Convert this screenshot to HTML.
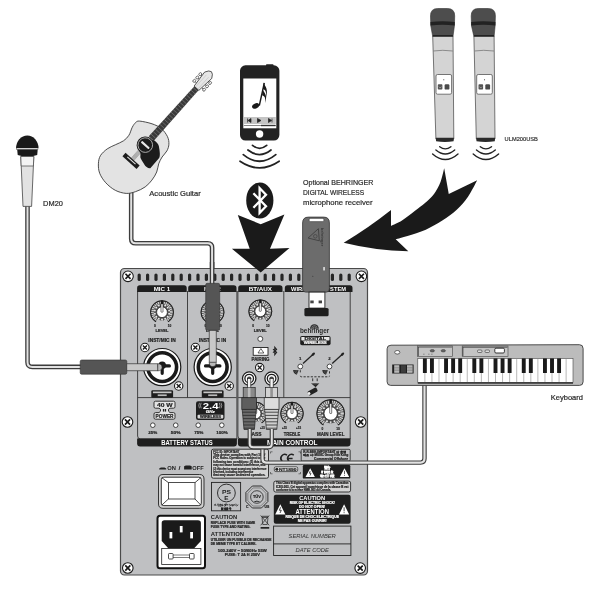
<!DOCTYPE html>
<html><head><meta charset="utf-8"><style>
html,body{margin:0;padding:0;background:#fff;width:600px;height:590px;overflow:hidden}
svg{display:block;font-family:"Liberation Sans",sans-serif;filter:blur(0.35px)}
</style></head><body>
<svg width="600" height="590" viewBox="0 0 600 590"><path d="M27.5,205 L27.5,362 Q27.5,366.9 32.4,366.9 L82,366.9" fill="none" stroke="#3c3c3c" stroke-width="4.6" stroke-linejoin="round"/><path d="M27.5,205 L27.5,362 Q27.5,366.9 32.4,366.9 L82,366.9" fill="none" stroke="#e2e2e2" stroke-width="2.0" stroke-linejoin="round"/><path d="M131.2,192 L131.2,238.7 Q131.2,243.2 135.7,243.2 L207.6,243.2 Q212.1,243.2 212.1,247.7 L212.1,290" fill="none" stroke="#3c3c3c" stroke-width="4.6" stroke-linejoin="round"/><path d="M131.2,192 L131.2,238.7 Q131.2,243.2 135.7,243.2 L207.6,243.2 Q212.1,243.2 212.1,247.7 L212.1,290" fill="none" stroke="#e2e2e2" stroke-width="2.0" stroke-linejoin="round"/><path d="M16.1,148 A11.2,12.5 0 0 1 38.5,148 Z" fill="#1a1a1a"/><rect x="16.6" y="148" width="21.4" height="1.6" fill="#fff" stroke="#1a1a1a" stroke-width="0.4"/><path d="M17.2,149.6 L37.7,149.6 L37.2,155 Q27.4,158 17.7,155 Z" fill="#1a1a1a"/><path d="M20.8,156.5 L33.8,156.5 L31.6,206.4 L23,206.4 Z" fill="#e2e2e2" stroke="#444" stroke-width="0.8"/><path d="M20.8,156.5 L33.8,156.5 L33.4,166 L21.2,166 Z" fill="#f4f4f4" stroke="#444" stroke-width="0.7"/><text x="43.1" y="205.8" font-size="7.4" fill="#2a2a2a" stroke="#2a2a2a" stroke-width="0.2" textLength="19.8" lengthAdjust="spacingAndGlyphs">DM20</text><path d="M139.70,121.10 C142.42,121.32 148.38,122.55 152.00,123.80 C155.62,125.05 158.82,126.45 161.40,128.60 C163.98,130.75 166.25,134.10 167.50,136.70 C168.75,139.30 169.00,141.83 168.90,144.20 C168.80,146.57 168.03,148.77 166.90,150.90 C165.77,153.03 163.47,154.85 162.10,157.00 C160.73,159.15 159.60,161.30 158.70,163.80 C157.80,166.30 157.83,169.28 156.70,172.00 C155.57,174.72 153.82,177.62 151.90,180.10 C149.98,182.58 147.90,184.98 145.20,186.90 C142.50,188.82 138.87,190.52 135.70,191.60 C132.53,192.68 129.60,193.62 126.20,193.40 C122.80,193.18 118.70,192.07 115.30,190.30 C111.90,188.53 108.40,185.63 105.80,182.80 C103.20,179.97 100.93,176.47 99.70,173.30 C98.47,170.13 98.28,166.73 98.40,163.80 C98.52,160.87 98.93,158.18 100.40,155.70 C101.87,153.22 104.72,150.72 107.20,148.90 C109.68,147.08 112.58,146.15 115.30,144.80 C118.02,143.45 121.23,142.38 123.50,140.80 C125.77,139.22 127.43,137.57 128.90,135.30 C130.37,133.03 131.17,129.33 132.30,127.20 C133.43,125.07 134.47,123.52 135.70,122.50 C136.93,121.48 136.98,120.88 139.70,121.10Z" fill="#e3e3e3" stroke="#3a3a3a" stroke-width="0.9"/><g transform="translate(145.3,145.1) rotate(42)"><line x1="-1.80" y1="-76" x2="-1.80" y2="21" stroke="#555" stroke-width="0.35"/><line x1="-1.08" y1="-76" x2="-1.08" y2="21" stroke="#555" stroke-width="0.35"/><line x1="-0.36" y1="-76" x2="-0.36" y2="21" stroke="#555" stroke-width="0.35"/><line x1="0.36" y1="-76" x2="0.36" y2="21" stroke="#555" stroke-width="0.35"/><line x1="1.08" y1="-76" x2="1.08" y2="21" stroke="#555" stroke-width="0.35"/><line x1="1.80" y1="-76" x2="1.80" y2="21" stroke="#555" stroke-width="0.35"/><path d="M1.9,-9.4 C6,-10 9.5,-9.5 10.8,-8.3 C15,-5 19,-2 19,1.4 L19.2,13.8 C18,15.5 14.5,16 12.6,15.2 C9,14 6,13.5 4.4,12.3 C2,9 1,8.5 0,9 Z" fill="#1c1c1c"/><path d="M-3.4,-9 L-2.9,-77 L2.9,-77 L3.4,-9 Z" fill="#3a3a3a"/><line x1="-3.1" y1="-12.0" x2="3.1" y2="-12.0" stroke="#9a9a9a" stroke-width="0.45"/><line x1="-3.1" y1="-15.3" x2="3.1" y2="-15.3" stroke="#9a9a9a" stroke-width="0.45"/><line x1="-3.1" y1="-18.6" x2="3.1" y2="-18.6" stroke="#9a9a9a" stroke-width="0.45"/><line x1="-3.1" y1="-21.9" x2="3.1" y2="-21.9" stroke="#9a9a9a" stroke-width="0.45"/><line x1="-3.1" y1="-25.2" x2="3.1" y2="-25.2" stroke="#9a9a9a" stroke-width="0.45"/><line x1="-3.1" y1="-28.5" x2="3.1" y2="-28.5" stroke="#9a9a9a" stroke-width="0.45"/><line x1="-3.1" y1="-31.8" x2="3.1" y2="-31.8" stroke="#9a9a9a" stroke-width="0.45"/><line x1="-3.1" y1="-35.1" x2="3.1" y2="-35.1" stroke="#9a9a9a" stroke-width="0.45"/><line x1="-3.1" y1="-38.4" x2="3.1" y2="-38.4" stroke="#9a9a9a" stroke-width="0.45"/><line x1="-3.1" y1="-41.7" x2="3.1" y2="-41.7" stroke="#9a9a9a" stroke-width="0.45"/><line x1="-3.1" y1="-45.0" x2="3.1" y2="-45.0" stroke="#9a9a9a" stroke-width="0.45"/><line x1="-3.1" y1="-48.3" x2="3.1" y2="-48.3" stroke="#9a9a9a" stroke-width="0.45"/><line x1="-3.1" y1="-51.6" x2="3.1" y2="-51.6" stroke="#9a9a9a" stroke-width="0.45"/><line x1="-3.1" y1="-54.9" x2="3.1" y2="-54.9" stroke="#9a9a9a" stroke-width="0.45"/><line x1="-3.1" y1="-58.2" x2="3.1" y2="-58.2" stroke="#9a9a9a" stroke-width="0.45"/><line x1="-3.1" y1="-61.5" x2="3.1" y2="-61.5" stroke="#9a9a9a" stroke-width="0.45"/><line x1="-3.1" y1="-64.8" x2="3.1" y2="-64.8" stroke="#9a9a9a" stroke-width="0.45"/><line x1="-3.1" y1="-68.1" x2="3.1" y2="-68.1" stroke="#9a9a9a" stroke-width="0.45"/><line x1="-3.1" y1="-71.4" x2="3.1" y2="-71.4" stroke="#9a9a9a" stroke-width="0.45"/><line x1="-3.1" y1="-74.7" x2="3.1" y2="-74.7" stroke="#9a9a9a" stroke-width="0.45"/><line x1="-3.5" y1="-80.5" x2="-6" y2="-80.5" stroke="#333" stroke-width="0.8"/><ellipse cx="-6.6" cy="-80.5" rx="1.3" ry="1.6" fill="#fff" stroke="#333" stroke-width="0.65"/><line x1="3.5" y1="-80.5" x2="6" y2="-80.5" stroke="#333" stroke-width="0.8"/><ellipse cx="6.6" cy="-80.5" rx="1.3" ry="1.6" fill="#fff" stroke="#333" stroke-width="0.65"/><line x1="-3.5" y1="-85" x2="-6" y2="-85" stroke="#333" stroke-width="0.8"/><ellipse cx="-6.6" cy="-85" rx="1.3" ry="1.6" fill="#fff" stroke="#333" stroke-width="0.65"/><line x1="3.5" y1="-85" x2="6" y2="-85" stroke="#333" stroke-width="0.8"/><ellipse cx="6.6" cy="-85" rx="1.3" ry="1.6" fill="#fff" stroke="#333" stroke-width="0.65"/><line x1="-3.5" y1="-89.5" x2="-6" y2="-89.5" stroke="#333" stroke-width="0.8"/><ellipse cx="-6.6" cy="-89.5" rx="1.3" ry="1.6" fill="#fff" stroke="#333" stroke-width="0.65"/><line x1="3.5" y1="-89.5" x2="6" y2="-89.5" stroke="#333" stroke-width="0.8"/><ellipse cx="6.6" cy="-89.5" rx="1.3" ry="1.6" fill="#fff" stroke="#333" stroke-width="0.65"/><path d="M-3.2,-76.5 L-4.8,-94 L-2.5,-97.5 L0,-98.8 L2.5,-97.5 L4.8,-94 L3.2,-76.5 Z" fill="#e6e6e6" stroke="#333" stroke-width="0.75"/><path d="M-1.6,-77 L-1.6,-93 M1.6,-77 L1.6,-93" stroke="#aaa" stroke-width="0.35"/><circle cx="0" cy="0" r="8.7" fill="#1c1c1c"/><circle cx="0" cy="0" r="7.3" fill="none" stroke="#b0b0b0" stroke-width="0.9"/><rect x="-5.2" y="-1.1" width="10.4" height="2.2" rx="0.8" fill="#e8e8e8"/><rect x="-9.5" y="19" width="19" height="4.6" fill="#1c1c1c"/><rect x="-5.5" y="20.2" width="11" height="1.1" fill="#e0e0e0"/></g><text x="149.3" y="196.3" font-size="7.5" fill="#2a2a2a" stroke="#2a2a2a" stroke-width="0.2" textLength="51.4" lengthAdjust="spacingAndGlyphs">Acoustic Guitar</text><rect x="240" y="65.3" width="39.4" height="75.2" rx="5.5" fill="#222"/><rect x="243.3" y="78.5" width="33" height="49.8" fill="#fff"/><rect x="243.8" y="117" width="32" height="7" fill="#c4c4c4"/><rect x="243.8" y="125" width="32" height="1" fill="#888"/><rect x="261" y="124.8" width="14.5" height="1.4" fill="#333"/><rect x="266" y="64.2" width="7.5" height="2" rx="0.8" fill="#222"/><path d="M247.5,118.5v4M248,120.5l3,-2v4z M257.5,118.5l3.5,2l-3.5,2z M272,118.5v4M271.5,120.5l-3,-2v4z" stroke="#222" stroke-width="0.7" fill="#222"/><circle cx="259.6" cy="134" r="3.7" fill="#fff"/><g fill="#1a1a1a"><ellipse cx="255.6" cy="105.9" rx="3.7" ry="2.5" transform="rotate(-25 255.6 105.9)"/><path d="M258.6,105.5 L263.6,82.8 L265,83 L260,105.8 Z"/><path d="M263.6,82.8 C265.5,87 268.5,89 266,98 C266.8,91 265,89.5 262.9,89 Z"/><path d="M262.7,89.5 C264.8,93.5 267.6,95 265.2,103 C265.8,97 264.2,95.8 262.1,95.2 Z"/></g><path d="M252.5,145.4 Q259.6,151.20000000000002 266.7,145.4" fill="none" stroke="#222" stroke-width="1.7" stroke-linecap="round"/><path d="M247.9,150 Q259.45,159.2 271,150" fill="none" stroke="#222" stroke-width="1.7" stroke-linecap="round"/><path d="M243.3,154.6 Q259.55,167.9 275.8,154.6" fill="none" stroke="#222" stroke-width="1.7" stroke-linecap="round"/><path d="M240,161.25 Q259.6,174.55 279.2,161.25" fill="none" stroke="#222" stroke-width="1.7" stroke-linecap="round"/><ellipse cx="259.8" cy="200.5" rx="13.6" ry="17.9" fill="#1a1a1a"/><path d="M253.4,193.2 L266,206.3 L259.6,213 L259.6,188 L266,194.7 L253.4,207.8" fill="none" stroke="#fff" stroke-width="2.3" stroke-linejoin="miter" stroke-miterlimit="3"/><path d="M444.2,168.3 L448.75,194 L477.2,180.2 C475.67,182.95 471.37,191.82 468.00,196.70 C464.63,201.58 461.28,205.52 457.00,209.50 C452.72,213.48 447.50,217.23 442.30,220.60 C437.10,223.97 431.60,227.12 425.80,229.70 C420.00,232.28 412.52,234.50 407.50,236.10 C402.48,237.70 397.67,238.77 395.70,239.30 L408.3,251.3 Q375,250.5 343.7,242.7 Q369,227.5 391,210 L391,226 C392.83,225.08 398.00,223.05 402.00,220.50 C406.00,217.95 411.17,213.62 415.00,210.70 C418.83,207.78 421.83,205.78 425.00,203.00 C428.17,200.22 431.42,197.50 434.00,194.00 C436.58,190.50 438.80,186.28 440.50,182.00 C442.20,177.72 443.58,170.58 444.20,168.30 Z" fill="#1a1a1a"/><path d="M432.7,36 L453.0,36 L453.8,139 L435.9,139 Z" fill="#d4d4d4" stroke="#555" stroke-width="0.8"/><path d="M435.79999999999995,137.8 L453.90000000000003,137.8 L453.6,141.3 Q444.85,142.6 436.09999999999997,141.3 Z" fill="#2a2a2a"/><path d="M433.09999999999997,51 Q442.6,49.6 452.9,51" fill="none" stroke="#777" stroke-width="0.8"/><path d="M432.7,36.4 L430.8,26 L430.5,16 Q430.5,8.5 437.5,8.5 L447.7,8.5 Q454.7,8.5 454.7,16 L454.4,26 L453.0,36.4 Z" fill="#4d4d4d" stroke="#333" stroke-width="0.6"/><path d="M430.5,22 Q442.6,20.6 454.7,22 L454.7,25.4 Q442.6,24 430.5,25.4 Z" fill="#222"/><path d="M432.9,35.6 L452.8,35.6" stroke="#222" stroke-width="1.2"/><rect x="436.0" y="74.5" width="15.6" height="19.7" rx="1.5" fill="#fff" stroke="#555" stroke-width="0.8"/><rect x="437.8" y="84.3" width="4.6" height="5.3" rx="0.8" fill="#555"/><rect x="444.6" y="84.3" width="4.8" height="5.3" rx="1.2" fill="#4a4a4a"/><path d="M438.8,86.6 L440.1,88 L441.40000000000003,86.6" fill="none" stroke="#ccc" stroke-width="0.5"/><circle cx="443.8" cy="79.8" r="0.55" fill="#333"/><path d="M473.9,36 L494.1,36 L495.0,139 L476.3,139 Z" fill="#d4d4d4" stroke="#555" stroke-width="0.8"/><path d="M476.2,137.8 L495.1,137.8 L494.8,141.3 Q485.65,142.6 476.5,141.3 Z" fill="#2a2a2a"/><path d="M474.29999999999995,51 Q483.29999999999995,49.6 494.0,51" fill="none" stroke="#777" stroke-width="0.8"/><path d="M473.9,36.4 L471.5,26 L471.2,16 Q471.2,8.5 478.2,8.5 L488.4,8.5 Q495.4,8.5 495.4,16 L495.09999999999997,26 L494.1,36.4 Z" fill="#4d4d4d" stroke="#333" stroke-width="0.6"/><path d="M471.2,22 Q483.29999999999995,20.6 495.4,22 L495.4,25.4 Q483.29999999999995,24 471.2,25.4 Z" fill="#222"/><path d="M474.09999999999997,35.6 L493.90000000000003,35.6" stroke="#222" stroke-width="1.2"/><rect x="476.69999999999993" y="74.5" width="15.6" height="19.7" rx="1.5" fill="#fff" stroke="#555" stroke-width="0.8"/><rect x="478.49999999999994" y="84.3" width="4.6" height="5.3" rx="0.8" fill="#555"/><rect x="485.29999999999995" y="84.3" width="4.8" height="5.3" rx="1.2" fill="#4a4a4a"/><path d="M479.49999999999994,86.6 L480.79999999999995,88 L482.09999999999997,86.6" fill="none" stroke="#ccc" stroke-width="0.5"/><circle cx="484.49999999999994" cy="79.8" r="0.55" fill="#333"/><path d="M439.7,146.7 Q445.3,151.10000000000002 450.90000000000003,146.7" fill="none" stroke="#222" stroke-width="1.4" stroke-linecap="round"/><path d="M435.90000000000003,150 Q445.3,158 454.7,150" fill="none" stroke="#222" stroke-width="1.4" stroke-linecap="round"/><path d="M432.6,154 Q445.3,165.2 458.0,154" fill="none" stroke="#222" stroke-width="1.4" stroke-linecap="round"/><path d="M480.29999999999995,146.7 Q485.9,151.10000000000002 491.5,146.7" fill="none" stroke="#222" stroke-width="1.4" stroke-linecap="round"/><path d="M476.5,150 Q485.9,158 495.29999999999995,150" fill="none" stroke="#222" stroke-width="1.4" stroke-linecap="round"/><path d="M473.2,154 Q485.9,165.2 498.59999999999997,154" fill="none" stroke="#222" stroke-width="1.4" stroke-linecap="round"/><text x="504.6" y="140.8" font-size="5.2" fill="#2a2a2a" stroke="#2a2a2a" stroke-width="0.15" textLength="33.3" lengthAdjust="spacingAndGlyphs">ULM200USB</text><g font-size="7.6" fill="#2a2a2a" stroke="#2a2a2a" stroke-width="0.2"><text x="303" y="185" textLength="70.3" lengthAdjust="spacingAndGlyphs">Optional BEHRINGER</text><text x="303" y="195.2" textLength="61.2" lengthAdjust="spacingAndGlyphs">DIGITAL WIRELESS</text><text x="303" y="204.8" textLength="69.6" lengthAdjust="spacingAndGlyphs">microphone receiver</text></g><rect x="120.5" y="268.5" width="247" height="306.5" rx="4" fill="#bfc0c2" stroke="#4a4a4a" stroke-width="1.2"/><rect x="137.6" y="273.4" width="3.2" height="7.7" rx="1.6" fill="#262626"/><rect x="146.0" y="273.4" width="3.2" height="7.7" rx="1.6" fill="#262626"/><rect x="154.4" y="273.4" width="3.2" height="7.7" rx="1.6" fill="#262626"/><rect x="162.8" y="273.4" width="3.2" height="7.7" rx="1.6" fill="#262626"/><rect x="171.2" y="273.4" width="3.2" height="7.7" rx="1.6" fill="#262626"/><rect x="179.6" y="273.4" width="3.2" height="7.7" rx="1.6" fill="#262626"/><rect x="188.0" y="273.4" width="3.2" height="7.7" rx="1.6" fill="#262626"/><rect x="196.4" y="273.4" width="3.2" height="7.7" rx="1.6" fill="#262626"/><rect x="204.8" y="273.4" width="3.2" height="7.7" rx="1.6" fill="#262626"/><rect x="213.2" y="273.4" width="3.2" height="7.7" rx="1.6" fill="#262626"/><rect x="221.6" y="273.4" width="3.2" height="7.7" rx="1.6" fill="#262626"/><rect x="230.0" y="273.4" width="3.2" height="7.7" rx="1.6" fill="#262626"/><rect x="238.4" y="273.4" width="3.2" height="7.7" rx="1.6" fill="#262626"/><rect x="246.8" y="273.4" width="3.2" height="7.7" rx="1.6" fill="#262626"/><rect x="255.2" y="273.4" width="3.2" height="7.7" rx="1.6" fill="#262626"/><rect x="263.6" y="273.4" width="3.2" height="7.7" rx="1.6" fill="#262626"/><rect x="272.0" y="273.4" width="3.2" height="7.7" rx="1.6" fill="#262626"/><rect x="280.4" y="273.4" width="3.2" height="7.7" rx="1.6" fill="#262626"/><rect x="288.8" y="273.4" width="3.2" height="7.7" rx="1.6" fill="#262626"/><rect x="297.2" y="273.4" width="3.2" height="7.7" rx="1.6" fill="#262626"/><rect x="305.6" y="273.4" width="3.2" height="7.7" rx="1.6" fill="#262626"/><rect x="314.0" y="273.4" width="3.2" height="7.7" rx="1.6" fill="#262626"/><rect x="322.4" y="273.4" width="3.2" height="7.7" rx="1.6" fill="#262626"/><rect x="330.8" y="273.4" width="3.2" height="7.7" rx="1.6" fill="#262626"/><rect x="339.2" y="273.4" width="3.2" height="7.7" rx="1.6" fill="#262626"/><rect x="347.6" y="273.4" width="3.2" height="7.7" rx="1.6" fill="#262626"/><circle cx="128" cy="276.3" r="5.3" fill="#fff" stroke="#1a1a1a" stroke-width="1.1"/><path d="M125.46,273.76L130.54,278.84M130.54,273.76L125.46,278.84" stroke="#1a1a1a" stroke-width="1.70"/><circle cx="361.4" cy="276.3" r="5.3" fill="#fff" stroke="#1a1a1a" stroke-width="1.1"/><path d="M358.86,273.76L363.94,278.84M363.94,273.76L358.86,278.84" stroke="#1a1a1a" stroke-width="1.70"/><circle cx="127.5" cy="422" r="5.3" fill="#fff" stroke="#1a1a1a" stroke-width="1.1"/><path d="M124.96,419.46L130.04,424.54M130.04,419.46L124.96,424.54" stroke="#1a1a1a" stroke-width="1.70"/><circle cx="360.7" cy="422" r="5.3" fill="#fff" stroke="#1a1a1a" stroke-width="1.1"/><path d="M358.16,419.46L363.24,424.54M363.24,419.46L358.16,424.54" stroke="#1a1a1a" stroke-width="1.70"/><circle cx="127.8" cy="568" r="5.3" fill="#fff" stroke="#1a1a1a" stroke-width="1.1"/><path d="M125.26,565.46L130.34,570.54M130.34,565.46L125.26,570.54" stroke="#1a1a1a" stroke-width="1.70"/><circle cx="360.2" cy="568.1" r="5.3" fill="#fff" stroke="#1a1a1a" stroke-width="1.1"/><path d="M357.66,565.56L362.74,570.64M362.74,565.56L357.66,570.64" stroke="#1a1a1a" stroke-width="1.70"/><path d="M137.6,291 L137.6,436 Q137.6,439 140.6,439 L236.9,439 L236.9,291" fill="none" stroke="#333" stroke-width="0.9"/><path d="M187.5,291 L187.5,397.6 M137.6,397.6 L236.5,397.6" fill="none" stroke="#333" stroke-width="0.9"/><path d="M237.9,291 L237.9,436 Q237.9,439 240.9,439 L350.2,439 L350.2,291" fill="none" stroke="#333" stroke-width="0.9"/><path d="M283.8,291 L283.8,397.6 M238.2,397.6 L350.2,397.6" fill="none" stroke="#333" stroke-width="0.9"/><path d="M137.1,291.9 L137.1,288 Q137.1,285.3 139.79999999999998,285.3 L184.0,285.3 Q186.7,285.3 186.7,288 L186.7,291.9 Z" fill="#1e1e1e"/><text x="153.7" y="290.9" font-size="6.2" font-weight="bold" fill="#fff" textLength="16.6" lengthAdjust="spacingAndGlyphs">MIC 1</text><path d="M188.2,291.9 L188.2,288 Q188.2,285.3 190.89999999999998,285.3 L233.8,285.3 Q236.5,285.3 236.5,288 L236.5,291.9 Z" fill="#1e1e1e"/><text x="204.0" y="290.9" font-size="6.2" font-weight="bold" fill="#fff" textLength="16.6" lengthAdjust="spacingAndGlyphs">MIC 2</text><path d="M238.2,291.9 L238.2,288 Q238.2,285.3 240.89999999999998,285.3 L279.8,285.3 Q282.5,285.3 282.5,288 L282.5,291.9 Z" fill="#1e1e1e"/><text x="248.65" y="290.9" font-size="6.2" font-weight="bold" fill="#fff" textLength="23.3" lengthAdjust="spacingAndGlyphs">BT/AUX</text><path d="M284.8,291.9 L284.8,288 Q284.8,285.3 287.5,285.3 L349.8,285.3 Q352.5,285.3 352.5,288 L352.5,291.9 Z" fill="#1e1e1e"/><text x="291.0" y="290.9" font-size="6.2" font-weight="bold" fill="#fff" textLength="55" lengthAdjust="spacingAndGlyphs">WIRELESS SYSTEM</text><path d="M137.1,438.5 L236.9,438.5 L236.9,443.5 Q236.9,446.5 233.9,446.5 L140.1,446.5 Q137.1,446.5 137.1,443.5 Z" fill="#1e1e1e"/><text x="161.3" y="445.3" font-size="6.4" font-weight="bold" fill="#fff" textLength="51.4" lengthAdjust="spacingAndGlyphs">BATTERY STATUS</text><path d="M237.9,438.5 L350.5,438.5 L350.5,443.5 Q350.5,446.5 347.5,446.5 L240.9,446.5 Q237.9,446.5 237.9,443.5 Z" fill="#1e1e1e"/><text x="267" y="445.3" font-size="6.4" font-weight="bold" fill="#fff" textLength="50.5" lengthAdjust="spacingAndGlyphs">MAIN CONTROL</text><circle cx="162" cy="312.2" r="11.9" fill="#505050"/><circle cx="162" cy="312.2" r="9.52" fill="none" stroke="#cfcfcf" stroke-width="2.86" stroke-dasharray="1.16 0.77"/><circle cx="162" cy="312.2" r="11.45" fill="none" stroke="#1a1a1a" stroke-width="0.9"/><circle cx="162.00" cy="304.90" r="0.95" fill="#e8e8e8"/><circle cx="165.17" cy="305.62" r="0.95" fill="#e8e8e8"/><circle cx="167.71" cy="307.65" r="0.95" fill="#e8e8e8"/><circle cx="169.12" cy="310.58" r="0.95" fill="#e8e8e8"/><circle cx="169.12" cy="313.82" r="0.95" fill="#e8e8e8"/><circle cx="167.71" cy="316.75" r="0.95" fill="#e8e8e8"/><circle cx="165.17" cy="318.78" r="0.95" fill="#e8e8e8"/><circle cx="162.00" cy="319.50" r="0.95" fill="#e8e8e8"/><circle cx="158.83" cy="318.78" r="0.95" fill="#e8e8e8"/><circle cx="156.29" cy="316.75" r="0.95" fill="#e8e8e8"/><circle cx="154.88" cy="313.82" r="0.95" fill="#e8e8e8"/><circle cx="154.88" cy="310.58" r="0.95" fill="#e8e8e8"/><circle cx="156.29" cy="307.65" r="0.95" fill="#e8e8e8"/><circle cx="158.83" cy="305.62" r="0.95" fill="#e8e8e8"/><path d="M166.56,319.49 L168.84,323.14 A12.9,12.9 0 0 1 155.16,323.14 L157.44,319.49 A8.600000000000001,8.600000000000001 0 0 0 166.56,319.49 Z" fill="#bfc0c2"/><circle cx="162" cy="312.2" r="5.4" fill="#fff" stroke="#1a1a1a" stroke-width="0.7"/><rect x="161" y="302.44" width="2" height="9.76" rx="0.6" fill="#fff" stroke="#1a1a1a" stroke-width="0.6"/><rect x="160.9" y="300.54" width="2.2" height="3.57" fill="#1a1a1a"/><text x="154.00" y="327.3" font-size="4" font-weight="bold" fill="#222" textLength="1.8" lengthAdjust="spacingAndGlyphs" stroke="#222" stroke-width="0.18">0</text><text x="167.70" y="327.3" font-size="4" font-weight="bold" fill="#222" textLength="3.6" lengthAdjust="spacingAndGlyphs" stroke="#222" stroke-width="0.18">10</text><text x="155.45" y="332.2" font-size="4.3" font-weight="bold" fill="#222" textLength="13.1" lengthAdjust="spacingAndGlyphs" stroke="#222" stroke-width="0.18">LEVEL</text><text x="148.35" y="341.7" font-size="4.6" font-weight="bold" fill="#222" textLength="27.3" lengthAdjust="spacingAndGlyphs" stroke="#222" stroke-width="0.18">INST/MIC IN</text><circle cx="162.2" cy="367.1" r="18.6" fill="#fff" stroke="#1a1a1a" stroke-width="1.2"/><circle cx="162.2" cy="367.1" r="14.4" fill="none" stroke="#1a1a1a" stroke-width="3.6"/><path d="M155.0,365.90000000000003 L169.39999999999998,365.90000000000003 M162.2,367.1 L162.2,373.3" stroke="#1a1a1a" stroke-width="3.2" stroke-linecap="round"/><circle cx="162.2" cy="365.3" r="3.8" fill="#1a1a1a"/><circle cx="144.89999999999998" cy="347.5" r="4.2" fill="#fff" stroke="#1a1a1a" stroke-width="1.1"/><path d="M142.88,345.48L146.92,349.52M146.92,345.48L142.88,349.52" stroke="#1a1a1a" stroke-width="1.34"/><circle cx="178.7" cy="386" r="4.2" fill="#fff" stroke="#1a1a1a" stroke-width="1.1"/><path d="M176.68,383.98L180.72,388.02M180.72,383.98L176.68,388.02" stroke="#1a1a1a" stroke-width="1.34"/><rect x="151.29999999999998" y="390.2" width="21.8" height="7.5" rx="1.2" fill="#1e1e1e"/><rect x="152.89999999999998" y="391.5" width="18.6" height="1.7" fill="#c8c8c8"/><rect x="157.7" y="394.4" width="9" height="1.7" fill="#bbb"/><circle cx="212.5" cy="312.2" r="11.9" fill="#505050"/><circle cx="212.5" cy="312.2" r="9.52" fill="none" stroke="#cfcfcf" stroke-width="2.86" stroke-dasharray="1.16 0.77"/><circle cx="212.5" cy="312.2" r="11.45" fill="none" stroke="#1a1a1a" stroke-width="0.9"/><circle cx="212.50" cy="304.90" r="0.95" fill="#e8e8e8"/><circle cx="215.67" cy="305.62" r="0.95" fill="#e8e8e8"/><circle cx="218.21" cy="307.65" r="0.95" fill="#e8e8e8"/><circle cx="219.62" cy="310.58" r="0.95" fill="#e8e8e8"/><circle cx="219.62" cy="313.82" r="0.95" fill="#e8e8e8"/><circle cx="218.21" cy="316.75" r="0.95" fill="#e8e8e8"/><circle cx="215.67" cy="318.78" r="0.95" fill="#e8e8e8"/><circle cx="212.50" cy="319.50" r="0.95" fill="#e8e8e8"/><circle cx="209.33" cy="318.78" r="0.95" fill="#e8e8e8"/><circle cx="206.79" cy="316.75" r="0.95" fill="#e8e8e8"/><circle cx="205.38" cy="313.82" r="0.95" fill="#e8e8e8"/><circle cx="205.38" cy="310.58" r="0.95" fill="#e8e8e8"/><circle cx="206.79" cy="307.65" r="0.95" fill="#e8e8e8"/><circle cx="209.33" cy="305.62" r="0.95" fill="#e8e8e8"/><path d="M217.06,319.49 L219.34,323.14 A12.9,12.9 0 0 1 205.66,323.14 L207.94,319.49 A8.600000000000001,8.600000000000001 0 0 0 217.06,319.49 Z" fill="#bfc0c2"/><circle cx="212.5" cy="312.2" r="5.4" fill="#fff" stroke="#1a1a1a" stroke-width="0.7"/><rect x="211.5" y="302.44" width="2" height="9.76" rx="0.6" fill="#fff" stroke="#1a1a1a" stroke-width="0.6"/><rect x="211.4" y="300.54" width="2.2" height="3.57" fill="#1a1a1a"/><text x="204.50" y="327.3" font-size="4" font-weight="bold" fill="#222" textLength="1.8" lengthAdjust="spacingAndGlyphs" stroke="#222" stroke-width="0.18">0</text><text x="218.20" y="327.3" font-size="4" font-weight="bold" fill="#222" textLength="3.6" lengthAdjust="spacingAndGlyphs" stroke="#222" stroke-width="0.18">10</text><text x="205.95" y="332.2" font-size="4.3" font-weight="bold" fill="#222" textLength="13.1" lengthAdjust="spacingAndGlyphs" stroke="#222" stroke-width="0.18">LEVEL</text><text x="198.85" y="341.7" font-size="4.6" font-weight="bold" fill="#222" textLength="27.3" lengthAdjust="spacingAndGlyphs" stroke="#222" stroke-width="0.18">INST/MIC IN</text><circle cx="212.7" cy="367.1" r="18.6" fill="#fff" stroke="#1a1a1a" stroke-width="1.2"/><circle cx="212.7" cy="367.1" r="14.4" fill="none" stroke="#1a1a1a" stroke-width="3.6"/><path d="M205.5,365.90000000000003 L219.89999999999998,365.90000000000003 M212.7,367.1 L212.7,373.3" stroke="#1a1a1a" stroke-width="3.2" stroke-linecap="round"/><circle cx="212.7" cy="365.3" r="3.8" fill="#1a1a1a"/><circle cx="195.39999999999998" cy="347.5" r="4.2" fill="#fff" stroke="#1a1a1a" stroke-width="1.1"/><path d="M193.38,345.48L197.42,349.52M197.42,345.48L193.38,349.52" stroke="#1a1a1a" stroke-width="1.34"/><circle cx="229.2" cy="386" r="4.2" fill="#fff" stroke="#1a1a1a" stroke-width="1.1"/><path d="M227.18,383.98L231.22,388.02M231.22,383.98L227.18,388.02" stroke="#1a1a1a" stroke-width="1.34"/><rect x="201.79999999999998" y="390.2" width="21.8" height="7.5" rx="1.2" fill="#1e1e1e"/><rect x="203.39999999999998" y="391.5" width="18.6" height="1.7" fill="#c8c8c8"/><rect x="208.2" y="394.4" width="9" height="1.7" fill="#bbb"/><path d="M155.5,401.2 L173.5,401.2 Q175,401.2 175,402.7 L175,406.8 Q175,408.2 173.5,408.2 L170,408.2 L168.5,409.3 L168.5,411.2 L170,412.6 L173.5,412.6 Q175,412.6 175,414.1 L175,417.7 Q175,419.2 173.5,419.2 L155.5,419.2 Q154,419.2 154,417.7 L154,414.1 Q154,412.6 155.5,412.6 L159,412.6 L160.5,411.2 L160.5,409.3 L159,408.2 L155.5,408.2 Q154,408.2 154,406.8 L154,402.7 Q154,401.2 155.5,401.2 Z" fill="#e4e4e4" stroke="#222" stroke-width="0.9"/><text x="157.00" y="406.8" font-size="5.4" font-weight="bold" fill="#222" textLength="15.7" lengthAdjust="spacingAndGlyphs" stroke="#222" stroke-width="0.18">40 W</text><rect x="162.9" y="409" width="1.3" height="2.6" fill="#222"/><rect x="164.8" y="409" width="1.3" height="2.6" fill="#222"/><text x="155.60" y="417.7" font-size="4.6" font-weight="bold" fill="#222" textLength="17.9" lengthAdjust="spacingAndGlyphs" stroke="#222" stroke-width="0.18">POWER</text><rect x="196" y="401.2" width="28.5" height="18.8" rx="2.2" fill="#1e1e1e"/><text x="202.70" y="409.2" font-size="9.6" font-weight="bold" fill="#fff" textLength="15.8" lengthAdjust="spacingAndGlyphs">2.4</text><path d="M199.5,402.8 Q198,405.5 199.5,408.3 M201.2,402.8 Q199.7,405.5 201.2,408.3 M221,402.8 Q222.5,405.5 221,408.3 M219.3,402.8 Q220.8,405.5 219.3,408.3" fill="none" stroke="#ddd" stroke-width="0.6"/><text x="205.70" y="413.2" font-size="3.8" font-weight="bold" fill="#fff" textLength="9" lengthAdjust="spacingAndGlyphs" font-style="italic" stroke="#fff" stroke-width="0.18">GHz</text><rect x="197.5" y="414.7" width="25.8" height="3.8" rx="1" fill="#d8d8d8"/><text x="200.00" y="417.9" font-size="3.1" font-weight="bold" fill="#222" textLength="21" lengthAdjust="spacingAndGlyphs" stroke="#222" stroke-width="0.18">WIRELESS</text><circle cx="152.8" cy="425.2" r="2.3" fill="#fff" stroke="#222" stroke-width="0.8"/><text x="148.30" y="434.4" font-size="4.3" font-weight="bold" fill="#222" textLength="9" lengthAdjust="spacingAndGlyphs" stroke="#222" stroke-width="0.18">25%</text><circle cx="175.7" cy="425.2" r="2.3" fill="#fff" stroke="#222" stroke-width="0.8"/><text x="170.80" y="434.4" font-size="4.3" font-weight="bold" fill="#222" textLength="9.9" lengthAdjust="spacingAndGlyphs" stroke="#222" stroke-width="0.18">50%</text><circle cx="198.2" cy="425.2" r="2.3" fill="#fff" stroke="#222" stroke-width="0.8"/><text x="194.20" y="434.4" font-size="4.3" font-weight="bold" fill="#222" textLength="9.3" lengthAdjust="spacingAndGlyphs" stroke="#222" stroke-width="0.18">75%</text><circle cx="221.8" cy="425.2" r="2.3" fill="#fff" stroke="#222" stroke-width="0.8"/><text x="216.20" y="434.4" font-size="4.3" font-weight="bold" fill="#222" textLength="11.6" lengthAdjust="spacingAndGlyphs" stroke="#222" stroke-width="0.18">100%</text><circle cx="260.3" cy="311.3" r="11.9" fill="#505050"/><circle cx="260.3" cy="311.3" r="9.52" fill="none" stroke="#cfcfcf" stroke-width="2.86" stroke-dasharray="1.16 0.77"/><circle cx="260.3" cy="311.3" r="11.45" fill="none" stroke="#1a1a1a" stroke-width="0.9"/><circle cx="260.30" cy="304.00" r="0.95" fill="#e8e8e8"/><circle cx="263.47" cy="304.72" r="0.95" fill="#e8e8e8"/><circle cx="266.01" cy="306.75" r="0.95" fill="#e8e8e8"/><circle cx="267.42" cy="309.68" r="0.95" fill="#e8e8e8"/><circle cx="267.42" cy="312.92" r="0.95" fill="#e8e8e8"/><circle cx="266.01" cy="315.85" r="0.95" fill="#e8e8e8"/><circle cx="263.47" cy="317.88" r="0.95" fill="#e8e8e8"/><circle cx="260.30" cy="318.60" r="0.95" fill="#e8e8e8"/><circle cx="257.13" cy="317.88" r="0.95" fill="#e8e8e8"/><circle cx="254.59" cy="315.85" r="0.95" fill="#e8e8e8"/><circle cx="253.18" cy="312.92" r="0.95" fill="#e8e8e8"/><circle cx="253.18" cy="309.68" r="0.95" fill="#e8e8e8"/><circle cx="254.59" cy="306.75" r="0.95" fill="#e8e8e8"/><circle cx="257.13" cy="304.72" r="0.95" fill="#e8e8e8"/><path d="M264.86,318.59 L267.14,322.24 A12.9,12.9 0 0 1 253.46,322.24 L255.74,318.59 A8.600000000000001,8.600000000000001 0 0 0 264.86,318.59 Z" fill="#bfc0c2"/><circle cx="260.3" cy="311.3" r="5.4" fill="#fff" stroke="#1a1a1a" stroke-width="0.7"/><rect x="259.3" y="301.54" width="2" height="9.76" rx="0.6" fill="#fff" stroke="#1a1a1a" stroke-width="0.6"/><rect x="259.2" y="299.64" width="2.2" height="3.57" fill="#1a1a1a"/><text x="252.30" y="326.5" font-size="4" font-weight="bold" fill="#222" textLength="1.8" lengthAdjust="spacingAndGlyphs" stroke="#222" stroke-width="0.18">0</text><text x="266.00" y="326.5" font-size="4" font-weight="bold" fill="#222" textLength="3.6" lengthAdjust="spacingAndGlyphs" stroke="#222" stroke-width="0.18">10</text><text x="253.75" y="331.6" font-size="4.3" font-weight="bold" fill="#222" textLength="13.1" lengthAdjust="spacingAndGlyphs" stroke="#222" stroke-width="0.18">LEVEL</text><circle cx="260.3" cy="338.9" r="2.5" fill="#fff" stroke="#222" stroke-width="0.8"/><rect x="253.2" y="347.5" width="14.8" height="7.8" fill="#fff" stroke="#222" stroke-width="0.9"/><path d="M258,353 L260.9,348.6 L263.8,353 Z" fill="none" stroke="#222" stroke-width="0.7"/><path d="M273,349.2 L276.6,352.4 L274.8,354.6 L274.8,347.2 L276.6,349.4 L273,352.6" fill="none" stroke="#222" stroke-width="1.1"/><text x="251.60" y="360.6" font-size="4.5" font-weight="bold" fill="#222" textLength="17.9" lengthAdjust="spacingAndGlyphs" stroke="#222" stroke-width="0.18">PAIRING</text><circle cx="259.7" cy="367.6" r="4.2" fill="#fff" stroke="#1a1a1a" stroke-width="1.1"/><path d="M257.68,365.58L261.72,369.62M261.72,365.58L257.68,369.62" stroke="#1a1a1a" stroke-width="1.34"/><circle cx="249.2" cy="378.6" r="6.7" fill="#fff" stroke="#1e1e1e" stroke-width="1.3"/><circle cx="249.2" cy="378.6" r="4.3" fill="#fff" stroke="#1e1e1e" stroke-width="1.3"/><circle cx="249.2" cy="378.6" r="2.2" fill="#444"/><circle cx="271.6" cy="378.6" r="6.7" fill="#fff" stroke="#1e1e1e" stroke-width="1.3"/><circle cx="271.6" cy="378.6" r="4.3" fill="#fff" stroke="#1e1e1e" stroke-width="1.3"/><circle cx="271.6" cy="378.6" r="2.2" fill="#444"/><circle cx="255.7" cy="413.5" r="11.7" fill="#505050"/><circle cx="255.7" cy="413.5" r="9.36" fill="none" stroke="#cfcfcf" stroke-width="2.81" stroke-dasharray="1.18 0.78"/><circle cx="255.7" cy="413.5" r="11.25" fill="none" stroke="#1a1a1a" stroke-width="0.9"/><circle cx="255.70" cy="406.35" r="0.95" fill="#e8e8e8"/><circle cx="258.80" cy="407.06" r="0.95" fill="#e8e8e8"/><circle cx="261.29" cy="409.04" r="0.95" fill="#e8e8e8"/><circle cx="262.67" cy="411.91" r="0.95" fill="#e8e8e8"/><circle cx="262.67" cy="415.09" r="0.95" fill="#e8e8e8"/><circle cx="261.29" cy="417.96" r="0.95" fill="#e8e8e8"/><circle cx="258.80" cy="419.94" r="0.95" fill="#e8e8e8"/><circle cx="255.70" cy="420.65" r="0.95" fill="#e8e8e8"/><circle cx="252.60" cy="419.94" r="0.95" fill="#e8e8e8"/><circle cx="250.11" cy="417.96" r="0.95" fill="#e8e8e8"/><circle cx="248.73" cy="415.09" r="0.95" fill="#e8e8e8"/><circle cx="248.73" cy="411.91" r="0.95" fill="#e8e8e8"/><circle cx="250.11" cy="409.04" r="0.95" fill="#e8e8e8"/><circle cx="252.60" cy="407.06" r="0.95" fill="#e8e8e8"/><path d="M260.18,420.67 L262.43,424.27 A12.7,12.7 0 0 1 248.97,424.27 L251.22,420.67 A8.450000000000001,8.450000000000001 0 0 0 260.18,420.67 Z" fill="#bfc0c2"/><circle cx="255.7" cy="413.5" r="5.25" fill="#fff" stroke="#1a1a1a" stroke-width="0.7"/><rect x="254.7" y="403.91" width="2" height="9.59" rx="0.6" fill="#fff" stroke="#1a1a1a" stroke-width="0.6"/><rect x="254.6" y="402.03" width="2.2" height="3.51" fill="#1a1a1a"/><circle cx="292" cy="413.5" r="11.7" fill="#505050"/><circle cx="292" cy="413.5" r="9.36" fill="none" stroke="#cfcfcf" stroke-width="2.81" stroke-dasharray="1.18 0.78"/><circle cx="292" cy="413.5" r="11.25" fill="none" stroke="#1a1a1a" stroke-width="0.9"/><circle cx="292.00" cy="406.35" r="0.95" fill="#e8e8e8"/><circle cx="295.10" cy="407.06" r="0.95" fill="#e8e8e8"/><circle cx="297.59" cy="409.04" r="0.95" fill="#e8e8e8"/><circle cx="298.97" cy="411.91" r="0.95" fill="#e8e8e8"/><circle cx="298.97" cy="415.09" r="0.95" fill="#e8e8e8"/><circle cx="297.59" cy="417.96" r="0.95" fill="#e8e8e8"/><circle cx="295.10" cy="419.94" r="0.95" fill="#e8e8e8"/><circle cx="292.00" cy="420.65" r="0.95" fill="#e8e8e8"/><circle cx="288.90" cy="419.94" r="0.95" fill="#e8e8e8"/><circle cx="286.41" cy="417.96" r="0.95" fill="#e8e8e8"/><circle cx="285.03" cy="415.09" r="0.95" fill="#e8e8e8"/><circle cx="285.03" cy="411.91" r="0.95" fill="#e8e8e8"/><circle cx="286.41" cy="409.04" r="0.95" fill="#e8e8e8"/><circle cx="288.90" cy="407.06" r="0.95" fill="#e8e8e8"/><path d="M296.48,420.67 L298.73,424.27 A12.7,12.7 0 0 1 285.27,424.27 L287.52,420.67 A8.450000000000001,8.450000000000001 0 0 0 296.48,420.67 Z" fill="#bfc0c2"/><circle cx="292" cy="413.5" r="5.25" fill="#fff" stroke="#1a1a1a" stroke-width="0.7"/><rect x="291" y="403.91" width="2" height="9.59" rx="0.6" fill="#fff" stroke="#1a1a1a" stroke-width="0.6"/><rect x="290.9" y="402.03" width="2.2" height="3.51" fill="#1a1a1a"/><circle cx="330.7" cy="413.5" r="14.3" fill="#505050"/><circle cx="330.7" cy="413.5" r="11.44" fill="none" stroke="#cfcfcf" stroke-width="3.43" stroke-dasharray="1.17 0.78"/><circle cx="330.7" cy="413.5" r="13.85" fill="none" stroke="#1a1a1a" stroke-width="0.9"/><circle cx="330.70" cy="404.90" r="0.95" fill="#e8e8e8"/><circle cx="334.43" cy="405.75" r="0.95" fill="#e8e8e8"/><circle cx="337.42" cy="408.14" r="0.95" fill="#e8e8e8"/><circle cx="339.08" cy="411.59" r="0.95" fill="#e8e8e8"/><circle cx="339.08" cy="415.41" r="0.95" fill="#e8e8e8"/><circle cx="337.42" cy="418.86" r="0.95" fill="#e8e8e8"/><circle cx="334.43" cy="421.25" r="0.95" fill="#e8e8e8"/><circle cx="330.70" cy="422.10" r="0.95" fill="#e8e8e8"/><circle cx="326.97" cy="421.25" r="0.95" fill="#e8e8e8"/><circle cx="323.98" cy="418.86" r="0.95" fill="#e8e8e8"/><circle cx="322.32" cy="415.41" r="0.95" fill="#e8e8e8"/><circle cx="322.32" cy="411.59" r="0.95" fill="#e8e8e8"/><circle cx="323.98" cy="408.14" r="0.95" fill="#e8e8e8"/><circle cx="326.97" cy="405.75" r="0.95" fill="#e8e8e8"/><path d="M335.95,421.90 L338.81,426.48 A15.3,15.3 0 0 1 322.59,426.48 L325.45,421.90 A9.9,9.9 0 0 0 335.95,421.90 Z" fill="#bfc0c2"/><circle cx="330.7" cy="413.5" r="6.7" fill="#fff" stroke="#1a1a1a" stroke-width="0.7"/><rect x="329.7" y="401.77" width="2" height="11.73" rx="0.6" fill="#fff" stroke="#1a1a1a" stroke-width="0.6"/><rect x="329.59999999999997" y="399.49" width="2.2" height="4.29" fill="#1a1a1a"/><text x="282.00" y="428.8" font-size="3.8" font-weight="bold" fill="#222" textLength="5" lengthAdjust="spacingAndGlyphs" stroke="#222" stroke-width="0.18">+15</text><text x="296.10" y="428.8" font-size="3.8" font-weight="bold" fill="#222" textLength="5" lengthAdjust="spacingAndGlyphs" stroke="#222" stroke-width="0.18">+15</text><text x="245.80" y="428.8" font-size="3.8" font-weight="bold" fill="#222" textLength="5" lengthAdjust="spacingAndGlyphs" stroke="#222" stroke-width="0.18">+15</text><text x="259.90" y="428.8" font-size="3.8" font-weight="bold" fill="#222" textLength="5" lengthAdjust="spacingAndGlyphs" stroke="#222" stroke-width="0.18">+15</text><text x="321.40" y="430.3" font-size="4" font-weight="bold" fill="#222" textLength="1.8" lengthAdjust="spacingAndGlyphs" stroke="#222" stroke-width="0.18">0</text><text x="336.30" y="430.3" font-size="4" font-weight="bold" fill="#222" textLength="3.6" lengthAdjust="spacingAndGlyphs" stroke="#222" stroke-width="0.18">10</text><text x="248.05" y="435.8" font-size="4.8" font-weight="bold" fill="#222" textLength="13.5" lengthAdjust="spacingAndGlyphs" stroke="#222" stroke-width="0.18">BASS</text><text x="283.80" y="435.8" font-size="4.8" font-weight="bold" fill="#222" textLength="16.4" lengthAdjust="spacingAndGlyphs" stroke="#222" stroke-width="0.18">TREBLE</text><text x="316.95" y="435.8" font-size="4.8" font-weight="bold" fill="#222" textLength="27.5" lengthAdjust="spacingAndGlyphs" stroke="#222" stroke-width="0.18">MAIN LEVEL</text><path d="M310,328.8 A4.4,4.6 0 0 1 318.8,328.8 Z" fill="#2a2a2a"/><path d="M311.6,328.6 A2.8,3 0 0 1 317.2,328.6 M313,328.6 A1.4,1.6 0 0 1 315.8,328.6" fill="none" stroke="#bbb" stroke-width="0.5"/><text x="300.00" y="332.9" font-size="7.2" font-weight="bold" fill="#2a2a2a" textLength="29.2" lengthAdjust="spacingAndGlyphs">behringer</text><rect x="300.2" y="336" width="30.4" height="9.3" rx="1.8" fill="#1e1e1e"/><rect x="301.3" y="336.9" width="28.2" height="3.5" rx="0.6" fill="#e8e8e8"/><text x="304.50" y="339.9" font-size="3.4" font-weight="bold" fill="#222" textLength="21.5" lengthAdjust="spacingAndGlyphs" stroke="#222" stroke-width="0.18">DIGITAL</text><text x="303.80" y="344.3" font-size="3.6" font-weight="bold" fill="#fff" textLength="23" lengthAdjust="spacingAndGlyphs" stroke="#fff" stroke-width="0.18">WIRELESS</text><text x="299.10" y="360.3" font-size="4.4" font-weight="bold" fill="#222" textLength="2.4" lengthAdjust="spacingAndGlyphs" stroke="#222" stroke-width="0.18">1</text><path d="M303.0,363.4 L312.90000000000003,354.6" stroke="#222" stroke-width="1.3"/><ellipse cx="313.3" cy="354.2" rx="1.2" ry="2" fill="#222" transform="rotate(45 313.3 354.2)"/><circle cx="300.3" cy="366.5" r="2.4" fill="#fff" stroke="#222" stroke-width="0.8"/><path d="M298.7,370.3 L293.1,370 A5.6,5.6 0 0 0 296.7,374.8 Z" fill="#2a2a2a"/><path d="M294.7,370.9 A4,4 0 0 0 297.0,373.6 M296.2,370.6 A2.6,2.6 0 0 0 297.6,372.3" fill="none" stroke="#999" stroke-width="0.35"/><text x="328.30" y="360.3" font-size="4.4" font-weight="bold" fill="#222" textLength="2.4" lengthAdjust="spacingAndGlyphs" stroke="#222" stroke-width="0.18">2</text><path d="M332.2,363.4 L342.1,354.6" stroke="#222" stroke-width="1.3"/><ellipse cx="342.5" cy="354.2" rx="1.2" ry="2" fill="#222" transform="rotate(45 342.5 354.2)"/><circle cx="329.5" cy="366.5" r="2.4" fill="#fff" stroke="#222" stroke-width="0.8"/><path d="M327.9,370.3 L322.3,370 A5.6,5.6 0 0 0 325.9,374.8 Z" fill="#2a2a2a"/><path d="M323.9,370.9 A4,4 0 0 0 326.2,373.6 M325.4,370.6 A2.6,2.6 0 0 0 326.8,372.3" fill="none" stroke="#999" stroke-width="0.35"/><path d="M300.3,370.2 L300.3,373.5 M300.3,375.8 Q300.3,376.8 301.5,376.8 L328.3,376.8 Q329.5,376.8 329.5,375.8 M329.5,373.5 L329.5,370.2" fill="none" stroke="#222" stroke-width="0.9" stroke-dasharray="2.2,1.4"/><path d="M312.7,378.4 L312.7,381.2 M317.2,378.4 L317.2,381.2" stroke="#222" stroke-width="0.9"/><path d="M311,383.2 L319.3,383.2 L315.6,387.2 Z" fill="#2a2a2a"/><path d="M311,383.2 Q315.1,385 319.3,383.2" fill="none" stroke="#999" stroke-width="0.35"/><rect x="307.6" y="389.2" width="10" height="4.6" rx="1.4" fill="#222" transform="rotate(-28 312.6 391.5)"/><rect x="307.4" y="390.3" width="2.4" height="2.6" rx="0.6" fill="#eee" transform="rotate(-28 312.6 391.5)"/><path d="M159.2,469.6 L166.2,469.6 L166.2,468.4 L164.5,467.6 L160.9,467.6 L159.2,468.4 Z" fill="#222"/><text x="167.30" y="469.6" font-size="6" font-weight="bold" fill="#222" textLength="8.7" lengthAdjust="spacingAndGlyphs">ON</text><text x="178.50" y="469.6" font-size="6" font-weight="bold" fill="#222" textLength="2" lengthAdjust="spacingAndGlyphs">/</text><path d="M184.1,469.6 L191.7,469.6 L191.7,466.2 L190,465.4 L185.8,465.4 L184.1,466.2 Z" fill="#222"/><text x="192.30" y="469.6" font-size="6" font-weight="bold" fill="#222" textLength="11.3" lengthAdjust="spacingAndGlyphs">OFF</text><path d="M163,474.5 L199.5,474.5 Q204,474.5 204,479 L204,504 Q204,508.3 199.5,508.3 L163,508.3 Q158.5,508.3 158.5,504 L158.5,479 Q158.5,474.5 163,474.5 Z" fill="#d2d2d2" stroke="#222" stroke-width="0.9"/><rect x="161.3" y="477.2" width="40" height="28.4" rx="2.5" fill="#fff" stroke="#222" stroke-width="0.9"/><rect x="168.4" y="482.6" width="26.6" height="16.4" fill="#fff" stroke="#222" stroke-width="0.8"/><path d="M161.8,477.7 L168.4,482.6 M200.8,477.7 L195,482.6 M161.8,505.1 L168.4,499 M200.8,505.1 L195,499" stroke="#222" stroke-width="0.8"/><rect x="157.5" y="515.8" width="47.5" height="52.4" rx="2.5" fill="#fff" stroke="#111" stroke-width="2"/><path d="M164.5,520.2 L198,520.2 Q200.9,520.2 200.9,523 L200.9,541 L194,548.5 L168.5,548.5 L161.7,541 L161.7,523 Q161.7,520.2 164.5,520.2 Z" fill="#1a1a1a"/><rect x="169.5" y="532" width="2.8" height="6.4" fill="#fff"/><rect x="179.8" y="526" width="2.8" height="6.4" fill="#fff"/><rect x="190.2" y="532" width="2.8" height="6.4" fill="#fff"/><rect x="161.7" y="548.5" width="39.2" height="16" fill="#fff" stroke="#222" stroke-width="0.8"/><rect x="168.5" y="553.5" width="4.6" height="5.5" rx="0.8" fill="none" stroke="#222" stroke-width="0.8"/><rect x="189.5" y="553.5" width="4.6" height="5.5" rx="0.8" fill="none" stroke="#222" stroke-width="0.8"/><path d="M173.1,555 L189.5,555 M173.1,557.5 L189.5,557.5" stroke="#222" stroke-width="0.6"/><rect x="211.5" y="449.2" width="57" height="29" rx="1.8" fill="#d4d4d4" stroke="#222" stroke-width="0.9"/><text x="213.30" y="452.6" font-size="3" font-weight="bold" fill="#222" textLength="26" lengthAdjust="spacingAndGlyphs" stroke="#222" stroke-width="0.18">FCC ID: IMPORTANT</text><text x="213.30" y="456.0" font-size="3" font-weight="bold" fill="#222" textLength="52" lengthAdjust="spacingAndGlyphs" stroke="#222" stroke-width="0.18">This device complies with Part 15 of</text><text x="213.30" y="459.4" font-size="3" font-weight="bold" fill="#222" textLength="52" lengthAdjust="spacingAndGlyphs" stroke="#222" stroke-width="0.18">FCC Rules. Operation is subject to the</text><text x="213.30" y="462.8" font-size="3" font-weight="bold" fill="#222" textLength="52" lengthAdjust="spacingAndGlyphs" stroke="#222" stroke-width="0.18">following two conditions: (1) this dev</text><text x="213.30" y="466.2" font-size="3" font-weight="bold" fill="#222" textLength="52" lengthAdjust="spacingAndGlyphs" stroke="#222" stroke-width="0.18">may not cause harmful interference, and</text><text x="213.30" y="469.6" font-size="3" font-weight="bold" fill="#222" textLength="53" lengthAdjust="spacingAndGlyphs" stroke="#222" stroke-width="0.18">(2) this device must accept any interference</text><text x="213.30" y="473.0" font-size="3" font-weight="bold" fill="#222" textLength="40" lengthAdjust="spacingAndGlyphs" stroke="#222" stroke-width="0.18">received, including interference</text><text x="213.30" y="476.4" font-size="3" font-weight="bold" fill="#222" textLength="52" lengthAdjust="spacingAndGlyphs" stroke="#222" stroke-width="0.18">that may cause undesired operation.</text><rect x="211.5" y="482.4" width="29.1" height="28.4" fill="none" stroke="#222" stroke-width="0.9"/><circle cx="226.4" cy="493" r="8.9" fill="none" stroke="#222" stroke-width="0.9"/><text x="221.90" y="493.6" font-size="6.2" font-weight="bold" fill="#222" textLength="9" lengthAdjust="spacingAndGlyphs">PS</text><text x="224.30" y="499.6" font-size="6.2" font-weight="bold" fill="#222" textLength="4.2" lengthAdjust="spacingAndGlyphs">E</text><text x="214.20" y="505.5" font-size="2.6" font-weight="bold" fill="#222" textLength="24" lengthAdjust="spacingAndGlyphs" stroke="#222" stroke-width="0.18">ベリカルダーシャパン</text><text x="221.20" y="509.5" font-size="3.2" font-weight="bold" fill="#222" textLength="10" lengthAdjust="spacingAndGlyphs" stroke="#222" stroke-width="0.18">製造番号</text><polygon points="267.89,501.55 261.45,507.99 252.35,507.99 245.91,501.55 245.91,492.45 252.35,486.01 261.45,486.01 267.89,492.45" fill="none" stroke="#222" stroke-width="0.9"/><polygon points="265.95,500.75 260.65,506.05 253.15,506.05 247.85,500.75 247.85,493.25 253.15,487.95 260.65,487.95 265.95,493.25" fill="none" stroke="#444" stroke-width="0.5"/><circle cx="256.9" cy="497" r="6.3" fill="none" stroke="#222" stroke-width="0.8"/><text x="252.90" y="498.3" font-size="4.2" font-weight="bold" fill="#222" textLength="8" lengthAdjust="spacingAndGlyphs" stroke="#222" stroke-width="0.18">TÜV</text><text x="254.40" y="501.5" font-size="2" font-weight="bold" fill="#222" textLength="5" lengthAdjust="spacingAndGlyphs" stroke="#222" stroke-width="0.18">SÜD</text><text x="246" y="508.3" font-size="3.4" font-weight="bold" fill="#222" text-anchor="start" stroke="#222" stroke-width="0.18">C</text><text x="264.5" y="508.3" font-size="3.4" font-weight="bold" fill="#222" text-anchor="start" stroke="#222" stroke-width="0.18">US</text><path d="M270.5,453.5 L270.5,451.8 L272.5,451.8 M298.5,451.8 L300.5,451.8 L300.5,453.5 M270.5,472 L270.5,473.8 L272.5,473.8 M298.5,473.8 L300.5,473.8 L300.5,472" stroke="#333" stroke-width="0.6" fill="none"/><path d="M287,455.2 A3.9,3.9 0 1 0 287,461.6" fill="none" stroke="#222" stroke-width="1.5"/><path d="M293.8,455.2 A3.9,3.9 0 1 0 293.8,461.6 M288.6,458.4 L292.6,458.4" fill="none" stroke="#222" stroke-width="1.5"/><rect x="274.3" y="466.8" width="23.4" height="4.8" rx="1.5" fill="#e6e6e6" stroke="#222" stroke-width="0.7"/><circle cx="276.8" cy="469.2" r="1.5" fill="#222"/><text x="279.00" y="470.9" font-size="3.8" font-weight="bold" fill="#222" textLength="17.5" lengthAdjust="spacingAndGlyphs" stroke="#222" stroke-width="0.18">NT1890</text><rect x="301.2" y="449.3" width="49" height="11.8" rx="1.2" fill="none" stroke="#222" stroke-width="0.8"/><text x="303.30" y="452.9" font-size="2.8" font-weight="bold" fill="#222" textLength="43" lengthAdjust="spacingAndGlyphs" stroke="#222" stroke-width="0.18">R-R-BEH-IMPORTANT 상호명</text><text x="303.30" y="456.2" font-size="2.8" font-weight="bold" fill="#222" textLength="45" lengthAdjust="spacingAndGlyphs" stroke="#222" stroke-width="0.18">제조사: MUSIC Group Hon Kong</text><text x="314.00" y="459.6" font-size="2.8" font-weight="bold" fill="#222" textLength="34" lengthAdjust="spacingAndGlyphs" stroke="#222" stroke-width="0.18">Commercial Offshore</text><rect x="302.8" y="465" width="47.5" height="13.6" rx="1.2" fill="#1e1e1e"/><path d="M305.5,477 L310.2,468.3 L314.9,477 Z M339.8,477 L344.5,468.3 L349.2,477 Z" fill="#fff"/><path d="M310.2,471 L309.3,473.2 L311,473.2 L310.1,475.5 M344.5,470.8 L344.5,474.2 M344.5,475.1 L344.5,475.9" stroke="#1e1e1e" stroke-width="0.7" fill="none"/><text x="323.80" y="469.3" font-size="3.6" font-weight="bold" fill="#fff" textLength="7" lengthAdjust="spacingAndGlyphs" stroke="#fff" stroke-width="0.18">警告</text><text x="321.30" y="473.1" font-size="2.8" font-weight="bold" fill="#fff" textLength="12" lengthAdjust="spacingAndGlyphs" stroke="#fff" stroke-width="0.18">有触电危险</text><text x="319.80" y="476.6" font-size="2.8" font-weight="bold" fill="#fff" textLength="15" lengthAdjust="spacingAndGlyphs" stroke="#fff" stroke-width="0.18">请勿打开机盖</text><rect x="273.8" y="481.1" width="76.8" height="10.9" rx="1.8" fill="#d4d4d4" stroke="#222" stroke-width="0.9"/><text x="276.00" y="484.3" font-size="2.9" font-weight="bold" fill="#222" textLength="72.4" lengthAdjust="spacingAndGlyphs" stroke="#222" stroke-width="0.18">This Class B digital apparatus complies with Canadian</text><text x="276.00" y="487.7" font-size="2.9" font-weight="bold" fill="#222" textLength="72.4" lengthAdjust="spacingAndGlyphs" stroke="#222" stroke-width="0.18">ICES-003. Cet appareil numérique de la classe B est</text><text x="276.00" y="491.1" font-size="2.9" font-weight="bold" fill="#222" textLength="55" lengthAdjust="spacingAndGlyphs" stroke="#222" stroke-width="0.18">conforme à la norme NMB-003 du Canada.</text><rect x="273.8" y="494.8" width="76.8" height="29" rx="2" fill="#1e1e1e"/><text x="299.20" y="500.3" font-size="5.6" font-weight="bold" fill="#fff" textLength="26" lengthAdjust="spacingAndGlyphs">CAUTION</text><text x="289.65" y="503.9" font-size="3.2" font-weight="bold" fill="#fff" textLength="45.3" lengthAdjust="spacingAndGlyphs" stroke="#fff" stroke-width="0.18">RISK OF ELECTRIC SHOCK!</text><text x="298.95" y="507.9" font-size="3.2" font-weight="bold" fill="#fff" textLength="26.3" lengthAdjust="spacingAndGlyphs" stroke="#fff" stroke-width="0.18">DO NOT OPEN!</text><text x="295.50" y="514.4" font-size="6.4" font-weight="bold" fill="#fff" textLength="33.4" lengthAdjust="spacingAndGlyphs">ATTENTION</text><text x="285.40" y="518" font-size="3.2" font-weight="bold" fill="#fff" textLength="53.6" lengthAdjust="spacingAndGlyphs" stroke="#fff" stroke-width="0.18">RISQUE DE CHOC ELECTRIQUE</text><text x="297.70" y="522.1" font-size="3.2" font-weight="bold" fill="#fff" textLength="29" lengthAdjust="spacingAndGlyphs" stroke="#fff" stroke-width="0.18">NE PAS OUVRIR!</text><path d="M275.2,514.4 L280.3,504.3 L285.4,514.4 Z M339,514.4 L344.1,504.3 L349.2,514.4 Z" fill="#fff"/><path d="M280.6,507.3 L279.4,510.3 L281.3,510.3 L280,513 M344.1,507.3 L344.1,511.3 M344.1,512.2 L344.1,513.2" stroke="#1e1e1e" stroke-width="0.8" fill="none"/><rect x="273.6" y="526.1" width="77.3" height="29.4" fill="none" stroke="#222" stroke-width="0.9"/><path d="M273.6,543.9 L350.9,543.9" stroke="#222" stroke-width="0.9"/><text x="312.2" y="537.6" font-size="5.8" font-style="italic" fill="#333" text-anchor="middle">SERIAL NUMBER</text><text x="312.2" y="552.2" font-size="5.8" font-style="italic" fill="#333" text-anchor="middle">DATE CODE</text><path d="M262,517.5 L268,517.5 L267.2,524.5 L262.8,524.5 Z" fill="none" stroke="#222" stroke-width="0.7"/><path d="M261.5,516.3 L268.5,516.3" stroke="#222" stroke-width="0.8"/><path d="M260.6,515.5 L269.2,525.3 M269.2,515.5 L260.6,525.3" stroke="#222" stroke-width="0.7"/><rect x="260.6" y="527" width="8.6" height="1.7" fill="#222"/><text x="210.80" y="519.3" font-size="5.8" font-weight="bold" fill="#222" textLength="26.3" lengthAdjust="spacingAndGlyphs">CAUTION</text><text x="210.80" y="523.8" font-size="3.1" font-weight="bold" fill="#222" textLength="44.4" lengthAdjust="spacingAndGlyphs" stroke="#222" stroke-width="0.18">REPLACE FUSE WITH SAME</text><text x="210.80" y="527.7" font-size="3.1" font-weight="bold" fill="#222" textLength="39.7" lengthAdjust="spacingAndGlyphs" stroke="#222" stroke-width="0.18">FUSE TYPE AND RATING.</text><text x="210.80" y="536.3" font-size="5.9" font-weight="bold" fill="#222" textLength="33.3" lengthAdjust="spacingAndGlyphs">ATTENTION</text><text x="210.80" y="540.6" font-size="3.1" font-weight="bold" fill="#222" textLength="60.7" lengthAdjust="spacingAndGlyphs" stroke="#222" stroke-width="0.18">UTILISER UN FUSIBLE DE RECHANGE</text><text x="210.80" y="544.8" font-size="3.1" font-weight="bold" fill="#222" textLength="45.5" lengthAdjust="spacingAndGlyphs" stroke="#222" stroke-width="0.18">DE MEME TYPE ET CALIBRE.</text><text x="217.80" y="551.8" font-size="3.6" font-weight="bold" fill="#222" textLength="49" lengthAdjust="spacingAndGlyphs" stroke="#222" stroke-width="0.18">100-240V ~ 50/60Hz 55W</text><text x="224.80" y="555.5" font-size="3.6" font-weight="bold" fill="#222" textLength="35" lengthAdjust="spacingAndGlyphs" stroke="#222" stroke-width="0.18">FUSE: T 2A H 250V</text><path d="M237.8,214.9 L260.7,224.2 L284.4,214.4 L270,248.8 L289.5,248 L260.7,272.5 L231.9,248.8 L249.7,248.8 Z" fill="#1a1a1a"/><path d="M212.1,262 L212.1,290" fill="none" stroke="#3c3c3c" stroke-width="4.6" stroke-linejoin="round"/><path d="M212.1,262 L212.1,290" fill="none" stroke="#e2e2e2" stroke-width="2.0" stroke-linejoin="round"/><rect x="80.2" y="360" width="46.6" height="14.2" rx="1.5" fill="#555" stroke="#333" stroke-width="0.6"/><rect x="126.8" y="363.8" width="31" height="7" fill="#c8c8c8" stroke="#333" stroke-width="0.7"/><path d="M157.8,363.8 Q162,363.8 162,367.3 Q162,370.8 157.8,370.8 Z" fill="#bbb" stroke="#333" stroke-width="0.6"/><rect x="205.7" y="283.3" width="14" height="47" rx="1.5" fill="#555" stroke="#333" stroke-width="0.6"/><rect x="209.2" y="330.3" width="7" height="32" fill="#c8c8c8" stroke="#333" stroke-width="0.7"/><path d="M209.2,362.3 Q209.2,366.5 212.7,366.5 Q216.2,366.5 216.2,362.3 Z" fill="#bbb" stroke="#333" stroke-width="0.6"/><path d="M302.6,223 Q302.6,217.1 308.5,217.1 L323.7,217.1 Q329.4,217.1 329.4,223 L329.4,289 Q329.4,292.1 326.3,292.1 L305.7,292.1 Q302.6,292.1 302.6,289 Z" fill="#6c6c6c" stroke="#333" stroke-width="0.8"/><rect x="309" y="218.4" width="15" height="3.2" rx="1.6" fill="#fff" stroke="#333" stroke-width="0.5"/><path d="M308.1,238 L318.4,228.7 L319.3,240.8 Z" fill="none" stroke="#3a3a3a" stroke-width="0.8"/><circle cx="315.3" cy="236.3" r="1.8" fill="none" stroke="#3a3a3a" stroke-width="0.6"/><text x="0" y="0" font-size="3.4" font-weight="bold" fill="#3a3a3a" textLength="18.5" lengthAdjust="spacingAndGlyphs" transform="translate(321.4,227.8) rotate(90)">behringer</text><rect x="323.4" y="267" width="1.3" height="3.6" rx="0.6" fill="#fff"/><circle cx="312.8" cy="276.2" r="0.5" fill="#333"/><rect x="309" y="292.1" width="15.9" height="16" fill="#fff" stroke="#222" stroke-width="0.9"/><rect x="310.3" y="300.5" width="3.4" height="2.8" fill="#444"/><rect x="318.6" y="300.5" width="3.4" height="2.8" fill="#444"/><rect x="304.4" y="308" width="24.2" height="8.3" rx="1.5" fill="#1e1e1e"/><rect x="247.6" y="378.5" width="3.2" height="10" fill="#f4f4f4" stroke="#222" stroke-width="0.7"/><rect x="243.2" y="387.6" width="12" height="10.1" fill="#8a8a8a" stroke="#222" stroke-width="0.7"/><rect x="247.89999999999998" y="387.6" width="2.6" height="10.1" fill="#f0f0f0" opacity="0.5"/><rect x="241.79999999999998" y="397.7" width="14.8" height="11.7" fill="#5e5e5e" stroke="#222" stroke-width="0.7"/><path d="M242.2,409.4 L256.2,409.4 L254.39999999999998,429.5 L244.0,429.5 Z" fill="#6a6a6a" stroke="#222" stroke-width="0.7"/><line x1="242.45" y1="412.2" x2="255.95" y2="412.2" stroke="#2a2a2a" stroke-width="0.8"/><line x1="242.74" y1="415.4" x2="255.66" y2="415.4" stroke="#2a2a2a" stroke-width="0.8"/><line x1="243.02" y1="418.6" x2="255.38" y2="418.6" stroke="#2a2a2a" stroke-width="0.8"/><line x1="243.31" y1="421.8" x2="255.09" y2="421.8" stroke="#2a2a2a" stroke-width="0.8"/><line x1="243.60" y1="425.0" x2="254.80" y2="425.0" stroke="#2a2a2a" stroke-width="0.8"/><line x1="243.88" y1="428.2" x2="254.52" y2="428.2" stroke="#2a2a2a" stroke-width="0.8"/><rect x="270.0" y="378.5" width="3.2" height="10" fill="#f4f4f4" stroke="#222" stroke-width="0.7"/><rect x="265.6" y="387.6" width="12" height="10.1" fill="#d2d2d2" stroke="#222" stroke-width="0.7"/><rect x="270.3" y="387.6" width="2.6" height="10.1" fill="#555" opacity="0.5"/><rect x="264.20000000000005" y="397.7" width="14.8" height="11.7" fill="#dcdcdc" stroke="#222" stroke-width="0.7"/><path d="M264.6,409.4 L278.6,409.4 L276.8,429.5 L266.40000000000003,429.5 Z" fill="#cfcfcf" stroke="#222" stroke-width="0.7"/><line x1="264.85" y1="412.2" x2="278.35" y2="412.2" stroke="#2a2a2a" stroke-width="0.8"/><line x1="265.14" y1="415.4" x2="278.06" y2="415.4" stroke="#2a2a2a" stroke-width="0.8"/><line x1="265.42" y1="418.6" x2="277.78" y2="418.6" stroke="#2a2a2a" stroke-width="0.8"/><line x1="265.71" y1="421.8" x2="277.49" y2="421.8" stroke="#2a2a2a" stroke-width="0.8"/><line x1="266.00" y1="425.0" x2="277.20" y2="425.0" stroke="#2a2a2a" stroke-width="0.8"/><line x1="266.28" y1="428.2" x2="276.92" y2="428.2" stroke="#2a2a2a" stroke-width="0.8"/><path d="M262.5,447.3 L262.5,459.1 Q262.5,462.6 266,462.6 L420.5,462.6 Q424.5,462.6 424.5,458.6 L424.5,384" fill="none" stroke="#3c3c3c" stroke-width="4.4" stroke-linejoin="round"/><path d="M262.5,447.3 L262.5,459.1 Q262.5,462.6 266,462.6 L420.5,462.6 Q424.5,462.6 424.5,458.6 L424.5,384" fill="none" stroke="#e2e2e2" stroke-width="2.2" stroke-linejoin="round"/><path d="M249.7,429 L249.7,443.8 Q249.7,447.3 253.2,447.3 L268.3,447.3 Q271.8,447.3 271.8,443.8 L271.8,429" fill="none" stroke="#3c3c3c" stroke-width="4.2" stroke-linejoin="round"/><path d="M249.7,429 L249.7,443.8 Q249.7,447.3 253.2,447.3 L268.3,447.3 Q271.8,447.3 271.8,443.8 L271.8,429" fill="none" stroke="#e2e2e2" stroke-width="2.0" stroke-linejoin="round"/><path d="M391,345.2 L579.5,344.7 Q583.1,344.7 583.1,348.5 L583.1,381.8 Q583.1,385.4 579.5,385.4 L390.7,385.4 Q387.1,385.4 387.1,381.8 L387.1,348.8 Q387.1,345.2 391,345.2 Z" fill="#bcbcbc" stroke="#3a3a3a" stroke-width="0.9"/><rect x="417.5" y="345.8" width="35" height="10.6" fill="#c4c4c4" stroke="#444" stroke-width="0.6"/><path d="M418,347 L452,347 M418.3,347 L418.3,356" stroke="#333" stroke-width="0.8"/><rect x="462.2" y="346" width="45.8" height="10.4" fill="#c4c4c4" stroke="#444" stroke-width="0.6"/><path d="M462.7,347.2 L507.5,347.2 M462.9,347.2 L462.9,356" stroke="#333" stroke-width="0.8"/><ellipse cx="397.3" cy="352.3" rx="2.6" ry="1.8" fill="#fff" stroke="#333" stroke-width="0.7"/><rect x="392.2" y="364.5" width="21.4" height="9" fill="#1e1e1e"/><rect x="394.2" y="365.3" width="5.1" height="7.4" fill="#cfcfcf"/><rect x="407" y="365.3" width="5.6" height="7.4" fill="#cfcfcf"/><path d="M394.2,367.2 L399.3,367.2 M394.2,369 L399.3,369 M394.2,370.8 L399.3,370.8 M407,367.2 L412.6,367.2 M407,369 L412.6,369 M407,370.8 L412.6,370.8" stroke="#333" stroke-width="0.5"/><rect x="400.9" y="365.3" width="5" height="7.4" fill="#3c3c3c"/><ellipse cx="432.3" cy="350.8" rx="2.2" ry="1.2" fill="#666" stroke="#333" stroke-width="0.5"/><ellipse cx="443.3" cy="350.8" rx="2.2" ry="1.2" fill="#666" stroke="#333" stroke-width="0.5"/><path d="M423.5,354.2 L424.3,354.2 M428.5,354.2 L429.3,354.2 M431.5,354.2 L432.3,354.2" stroke="#333" stroke-width="0.8"/><rect x="477.5" y="350" width="4.5" height="2.5" rx="1" fill="#ddd" stroke="#333" stroke-width="0.6"/><rect x="485" y="350" width="4.5" height="2.5" rx="1" fill="#ddd" stroke="#333" stroke-width="0.6"/><rect x="494.8" y="348.2" width="9.6" height="4.8" rx="1.2" fill="#fff" stroke="#222" stroke-width="0.9"/><rect x="417.8" y="358.4" width="155.2" height="23.9" fill="#fff" stroke="#444" stroke-width="0.6"/><line x1="424.86" y1="358.4" x2="424.86" y2="382.3" stroke="#8a8a8a" stroke-width="0.6"/><line x1="431.93" y1="358.4" x2="431.93" y2="382.3" stroke="#8a8a8a" stroke-width="0.6"/><line x1="438.99" y1="358.4" x2="438.99" y2="382.3" stroke="#8a8a8a" stroke-width="0.6"/><line x1="446.05" y1="358.4" x2="446.05" y2="382.3" stroke="#8a8a8a" stroke-width="0.6"/><line x1="453.12" y1="358.4" x2="453.12" y2="382.3" stroke="#8a8a8a" stroke-width="0.6"/><line x1="460.18" y1="358.4" x2="460.18" y2="382.3" stroke="#8a8a8a" stroke-width="0.6"/><line x1="467.25" y1="358.4" x2="467.25" y2="382.3" stroke="#8a8a8a" stroke-width="0.6"/><line x1="474.31" y1="358.4" x2="474.31" y2="382.3" stroke="#8a8a8a" stroke-width="0.6"/><line x1="481.37" y1="358.4" x2="481.37" y2="382.3" stroke="#8a8a8a" stroke-width="0.6"/><line x1="488.44" y1="358.4" x2="488.44" y2="382.3" stroke="#8a8a8a" stroke-width="0.6"/><line x1="495.50" y1="358.4" x2="495.50" y2="382.3" stroke="#8a8a8a" stroke-width="0.6"/><line x1="502.56" y1="358.4" x2="502.56" y2="382.3" stroke="#8a8a8a" stroke-width="0.6"/><line x1="509.63" y1="358.4" x2="509.63" y2="382.3" stroke="#8a8a8a" stroke-width="0.6"/><line x1="516.69" y1="358.4" x2="516.69" y2="382.3" stroke="#8a8a8a" stroke-width="0.6"/><line x1="523.75" y1="358.4" x2="523.75" y2="382.3" stroke="#8a8a8a" stroke-width="0.6"/><line x1="530.82" y1="358.4" x2="530.82" y2="382.3" stroke="#8a8a8a" stroke-width="0.6"/><line x1="537.88" y1="358.4" x2="537.88" y2="382.3" stroke="#8a8a8a" stroke-width="0.6"/><line x1="544.95" y1="358.4" x2="544.95" y2="382.3" stroke="#8a8a8a" stroke-width="0.6"/><line x1="552.01" y1="358.4" x2="552.01" y2="382.3" stroke="#8a8a8a" stroke-width="0.6"/><line x1="559.07" y1="358.4" x2="559.07" y2="382.3" stroke="#8a8a8a" stroke-width="0.6"/><line x1="566.14" y1="358.4" x2="566.14" y2="382.3" stroke="#8a8a8a" stroke-width="0.6"/><rect x="422.91" y="358.4" width="3.9" height="14.6" fill="#1a1a1a"/><rect x="429.98" y="358.4" width="3.9" height="14.6" fill="#1a1a1a"/><rect x="444.10" y="358.4" width="3.9" height="14.6" fill="#1a1a1a"/><rect x="451.17" y="358.4" width="3.9" height="14.6" fill="#1a1a1a"/><rect x="458.23" y="358.4" width="3.9" height="14.6" fill="#1a1a1a"/><rect x="472.36" y="358.4" width="3.9" height="14.6" fill="#1a1a1a"/><rect x="479.42" y="358.4" width="3.9" height="14.6" fill="#1a1a1a"/><rect x="493.55" y="358.4" width="3.9" height="14.6" fill="#1a1a1a"/><rect x="500.61" y="358.4" width="3.9" height="14.6" fill="#1a1a1a"/><rect x="507.68" y="358.4" width="3.9" height="14.6" fill="#1a1a1a"/><rect x="521.80" y="358.4" width="3.9" height="14.6" fill="#1a1a1a"/><rect x="528.87" y="358.4" width="3.9" height="14.6" fill="#1a1a1a"/><rect x="543.00" y="358.4" width="3.9" height="14.6" fill="#1a1a1a"/><rect x="550.06" y="358.4" width="3.9" height="14.6" fill="#1a1a1a"/><rect x="557.12" y="358.4" width="3.9" height="14.6" fill="#1a1a1a"/><rect x="417.8" y="382.3" width="155.2" height="1.4" fill="#2a2a2a"/><text x="550.8" y="399.7" font-size="7.3" fill="#2a2a2a" stroke="#2a2a2a" stroke-width="0.2" textLength="32.1" lengthAdjust="spacingAndGlyphs">Keyboard</text></svg>
</body></html>
